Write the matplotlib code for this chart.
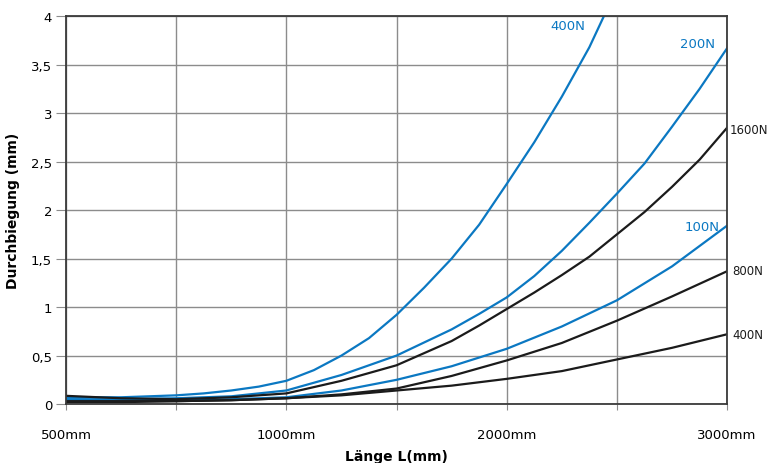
import matplotlib.pyplot as plt
import numpy as np

# Positionen auf der x-Achse (Gitterraster 0..6), Beschriftung nur an 0,2,4,6
x_ticks = [0, 1, 2, 3, 4, 5, 6]
x_labels = ['500mm', '', '1000mm', '', '2000mm', '', '3000mm']

u_std = [0, 0.5, 1, 1.5, 2, 2.5, 3, 3.5, 4, 4.5, 5, 5.5, 6]
u_fein = [0, 0.5, 1, 1.5, 2, 2.5, 3, 3.5, 3.75, 4, 4.25, 4.5, 4.75, 5, 5.25, 5.5, 5.75, 6]

# blaue Kurven
u_400b = [0, 0.5, 1, 1.25, 1.5, 1.75, 2, 2.25, 2.5, 2.75, 3, 3.25, 3.5, 3.75, 4, 4.25, 4.5, 4.75, 4.89]
y_400b = [0.07, 0.07, 0.09, 0.11, 0.14, 0.18, 0.24, 0.35, 0.50, 0.68, 0.92, 1.20, 1.50, 1.85, 2.27, 2.70, 3.17, 3.68, 4.02]
y_200b = [0.05, 0.05, 0.06, 0.08, 0.14, 0.30, 0.50, 0.77, 0.93, 1.10, 1.32, 1.58, 1.87, 2.17, 2.48, 2.86, 3.25, 3.67]
y_100b = [0.045, 0.04, 0.04, 0.05, 0.07, 0.14, 0.25, 0.39, 0.57, 0.80, 1.07, 1.42, 1.84]

# schwarze Kurven
y_1600 = [0.085, 0.06, 0.05, 0.07, 0.11, 0.24, 0.40, 0.65, 0.81, 0.98, 1.15, 1.33, 1.52, 1.75, 1.98, 2.24, 2.52, 2.85]
y_800 = [0.03, 0.03, 0.03, 0.04, 0.06, 0.10, 0.16, 0.29, 0.45, 0.63, 0.86, 1.11, 1.37]
y_400 = [0.02, 0.02, 0.03, 0.04, 0.06, 0.09, 0.14, 0.19, 0.26, 0.34, 0.46, 0.58, 0.72]

y_ticks = [0, 0.5, 1, 1.5, 2, 2.5, 3, 3.5, 4]
y_labels = ['0', '0,5', '1', '1,5', '2', '2,5', '3', '3,5', '4']

blau = '#0b78c2'
schwarz = '#1b1b1b'

plt.rcParams['font.family'] = ['Liberation Sans Narrow', 'DejaVu Sans']

fig = plt.figure(figsize=(7.67, 4.64), dpi=100)
ax = fig.add_axes([0.086, 0.127, 0.862, 0.836])

ax.plot(u_400b, y_400b, color=blau, lw=1.6)
ax.plot(u_fein, y_200b, color=blau, lw=1.6)
ax.plot(u_std, y_100b, color=blau, lw=1.6)
ax.plot(u_fein, y_1600, color=schwarz, lw=1.6)
ax.plot(u_std, y_800, color=schwarz, lw=1.6)
ax.plot(u_std, y_400, color=schwarz, lw=1.6)

# Beschriftungen der Kurven
ax.text(4.55, 3.9, '400N', color=blau, fontsize=9.5, ha='center', va='center')
ax.text(5.73, 3.72, '200N', color=blau, fontsize=9.5, ha='center', va='center')
ax.text(5.77, 1.83, '100N', color=blau, fontsize=9.5, ha='center', va='center')
ax.text(6.025, 2.83, '1600N', color=schwarz, fontsize=8.5, ha='left', va='center', clip_on=False)
ax.text(6.05, 1.38, '800N', color=schwarz, fontsize=8.5, ha='left', va='center', clip_on=False)
ax.text(6.05, 0.72, '400N', color=schwarz, fontsize=8.5, ha='left', va='center', clip_on=False)

ax.set_xlim(0, 6)
ax.set_ylim(0, 4)
ax.set_xticks(x_ticks)
ax.set_xticklabels(x_labels)
ax.set_yticks(y_ticks)
ax.set_yticklabels(y_labels)

ax.grid(True, color='#8c8c8c', lw=1.0)
ax.set_axisbelow(True)
for s in ax.spines.values():
    s.set_color('#3a3a3a')
    s.set_linewidth(1.3)

ax.tick_params(axis='y', length=7, color='#8c8c8c', labelsize=9.5, pad=3)
ax.tick_params(axis='x', length=4, color='#8c8c8c', labelsize=9.5, pad=13)

ax.set_xlabel('Länge L(mm)', fontsize=10, fontweight='bold', labelpad=6)
ax.set_ylabel('Durchbiegung (mm)', fontsize=10, fontweight='bold', labelpad=8)

plt.savefig('out.png', dpi=100)
